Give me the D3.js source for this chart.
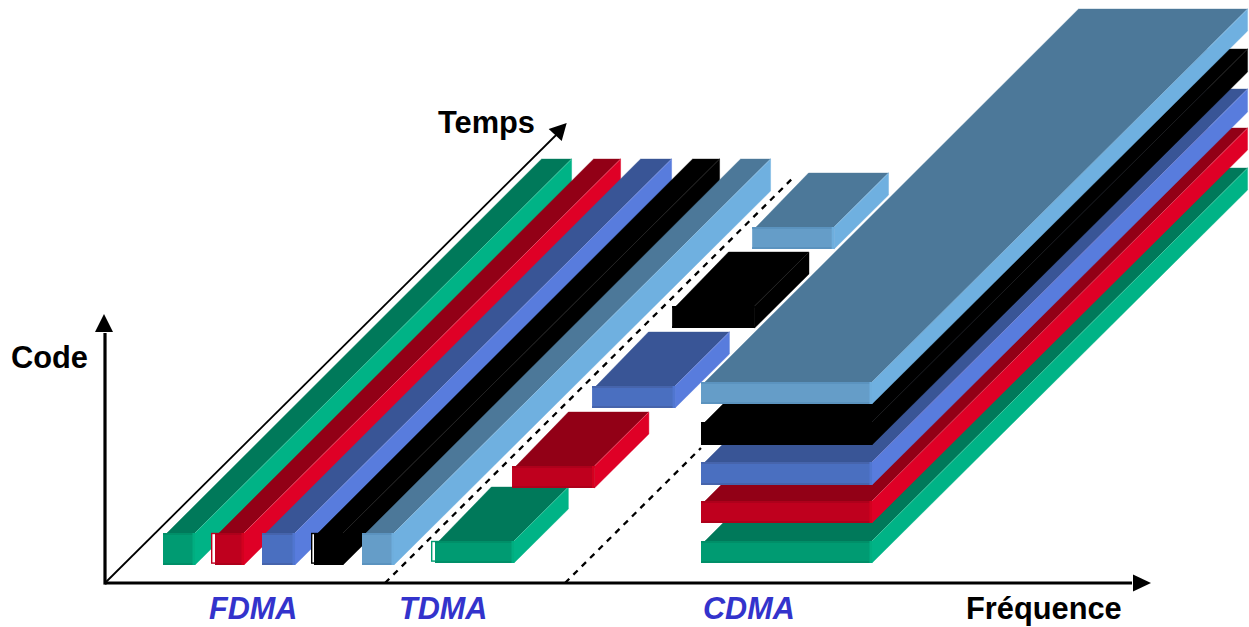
<!DOCTYPE html>
<html lang="fr">
<head>
<meta charset="utf-8">
<title>FDMA TDMA CDMA</title>
<script src="https://cdn.jsdelivr.net/npm/d3@7/dist/d3.min.js"></script>
<style>
html,body{margin:0;padding:0;background:#fff;overflow:hidden}
svg{display:block}
text{font-family:"Liberation Sans",Arial,sans-serif;font-weight:bold}
</style>
</head>
<body>
<svg id="chart" width="1249" height="627"></svg>
<script>
// ---- data (chart units: frequency, time, code) ----
const channels = ["green", "red", "blue", "black", "sky"];

const fdmaFreqStart = [58, 110, 157, 209, 257];
const fdmaFreqEnd   = [90, 139, 190, 238, 289];
const fdmaTimeStart = [0, 0, 0, 0, 0];
const fdmaTimeEnd   = [374, 374, 374, 374, 374];
const fdmaCodeStart = [18, 18, 18, 18, 18];
const fdmaCodeEnd   = [50, 50, 50, 50, 50];
const fdmaFrameFreq = [null, 106, null, 206, null];

const tdmaFreqStart = [330, 331.5, 331, 330.5, 331];
const tdmaFreqEnd   = [409, 414, 414, 413, 413];
const tdmaTimeStart = [0, 75, 155, 235, 314];
const tdmaTimeEnd   = [54, 129, 209, 289, 368];
const tdmaCodeStart = [20, 20, 20, 20, 20];
const tdmaCodeEnd   = [42, 42, 42, 42, 42];
const tdmaFrameFreq = [326, null, null, null, null];

const cdmaFreqStart = [596, 596, 596, 596, 596];
const cdmaFreqEnd   = [767, 767, 767, 767, 767];
const cdmaTimeStart = [0, 0, 0, 0, 0];
const cdmaTimeEnd   = [373, 373, 373, 373, 373];
const cdmaCodeStart = [20, 60, 98, 138, 179];
const cdmaCodeEnd   = [42, 82, 121, 161, 201];

const guardFreq    = [280, 460];
const guardTimeEnd = [406, 135];

const axisFreqMax = 1047;
const axisCodeMax = 270;
const axisTimeMax = 460;

const methodLabels = ["FDMA", "TDMA", "CDMA"];
const axisLabels = ["Code", "Temps", "Fréquence"];

// ---- styles ----
const palette = {
  green: {front:"#009B72", top:"#00795A", side:"#00B386", dark:"#008F68", light:"#00AE80", edge:"#5fd0b0"},
  red:   {front:"#BF001E", top:"#920016", side:"#DF0026", dark:"#AE001B", light:"#D3001F", edge:"#f06a80"},
  blue:  {front:"#4A6FC0", top:"#395596", side:"#587CDD", dark:"#4664AC", light:"#5076D0", edge:"#8a9be0"},
  black: {front:"#000000", top:"#000000", side:"#000000", dark:"#000000", light:"#000000", edge:"#2c2c2c"},
  sky:   {front:"#659DC8", top:"#4C7899", side:"#6FB0E0", dark:"#5B93BF", light:"#6EAEDD", edge:"#9cc6e6"}
};

// ---- scales: oblique projection from the axis origin ----
const originX = 105, originY = 583;
const fScale  = d3.scaleLinear().domain([0, 1000]).range([0, 1000]);
const cScale  = d3.scaleLinear().domain([0, 1000]).range([0, -1000]);
const tScaleX = d3.scaleLinear().domain([0, 374]).range([0, 376.6]);
const tScaleY = d3.scaleLinear().domain([0, 374]).range([0, -374]);
const px = (f, t) => originX + fScale(f) + tScaleX(t);
const py = (c, t) => originY + cScale(c) + tScaleY(t);

const svg = d3.select("#chart");
const toPath = d3.line();

function makeBoxes(fs, fe, ts, te, cs, ce, frames) {
  return channels.map((name, i) => ({
    name, f0: fs[i], f1: fe[i], t0: ts[i], t1: te[i], c0: cs[i], c1: ce[i],
    frame: frames ? frames[i] : null
  }));
}
const boxes = [
  ...makeBoxes(fdmaFreqStart, fdmaFreqEnd, fdmaTimeStart, fdmaTimeEnd, fdmaCodeStart, fdmaCodeEnd, fdmaFrameFreq),
  ...makeBoxes(tdmaFreqStart, tdmaFreqEnd, tdmaTimeStart, tdmaTimeEnd, tdmaCodeStart, tdmaCodeEnd, tdmaFrameFreq),
  ...makeBoxes(cdmaFreqStart, cdmaFreqEnd, cdmaTimeStart, cdmaTimeEnd, cdmaCodeStart, cdmaCodeEnd, null)
];

// guard lines sit under the boxes
svg.append("g").selectAll("path").data(guardFreq).join("path")
  .attr("d", (f, i) => toPath([[px(f, 0), py(0, 0)], [px(f, guardTimeEnd[i]), py(0, guardTimeEnd[i])]]))
  .attr("fill", "none").attr("stroke", "#000").attr("stroke-width", 2.3)
  .attr("stroke-dasharray", "6 5.8");

// boxes
const frontInset = 4, backInset = 2, bevel = 2;
const g = svg.append("g").selectAll("g").data(boxes).join("g");
g.each(function (b) {
  const p = palette[b.name], s = d3.select(this);
  const xL = px(b.f0, b.t0), xR = px(b.f1, b.t0);
  const yT = py(b.c1, b.t0), yB = py(b.c0, b.t0);
  const dx = tScaleX(b.t1 - b.t0), dy = -tScaleY(b.t1 - b.t0);
  const h = yB - yT;
  // top
  s.append("path")
    .attr("d", toPath([[xL + frontInset, yT], [xL + backInset + dx, yT - dy], [xR + dx, yT - dy], [xR, yT]]) + "Z")
    .attr("fill", p.top).attr("stroke", p.top).attr("stroke-width", 0.4);
  // side
  s.append("path")
    .attr("d", toPath([[xR, yT], [xR + dx, yT - dy], [xR + dx, yB - dy], [xR, yB]]) + "Z")
    .attr("fill", p.side).attr("stroke", p.side).attr("stroke-width", 0.4);
  // ridge between top and side
  s.append("path")
    .attr("d", toPath([[xR, yT], [xR + dx, yT - dy]]))
    .attr("stroke", p.edge).attr("stroke-width", 0.6).attr("fill", "none");
  // left outline frame behind the front
  if (b.frame !== null) {
    const fx = px(b.frame, b.t0);
    s.append("rect").attr("x", fx + 0.7).attr("y", yT + 0.5)
      .attr("width", xL - fx + 4).attr("height", h - 2.4)
      .attr("fill", "#fff").attr("stroke", p.dark === "#000000" ? "#000" : p.front).attr("stroke-width", 1.4);
  }
  // front with bevelled strips
  s.append("rect").attr("x", xL).attr("y", yT).attr("width", xR - xL).attr("height", h).attr("fill", p.front);
  s.append("rect").attr("x", xL).attr("y", yT).attr("width", xR - xL).attr("height", bevel).attr("fill", p.dark);
  s.append("rect").attr("x", xL).attr("y", yB - bevel).attr("width", xR - xL).attr("height", bevel).attr("fill", p.dark);
  s.append("rect").attr("x", xR - bevel - 0.5).attr("y", yT).attr("width", bevel + 0.5).attr("height", h).attr("fill", p.light);
});

// axes
const axes = svg.append("g");
axes.append("path")
  .attr("d", toPath([[px(0, 0), py(0, 0)], [px(0, axisTimeMax - 12), py(0, axisTimeMax - 12)]]))
  .attr("stroke", "#000").attr("stroke-width", 1.8).attr("fill", "none");
axes.append("path")
  .attr("d", toPath([[px(0, 0), py(0, 0)], [px(axisFreqMax - 20, 0), py(0, 0)]]))
  .attr("stroke", "#000").attr("stroke-width", 3.2).attr("fill", "none");
axes.append("path")
  .attr("d", toPath([[px(0, 0), py(0, 0) + 1.6], [px(0, 0), py(axisCodeMax - 20, 0)]]))
  .attr("stroke", "#000").attr("stroke-width", 3.2).attr("fill", "none");

const fTipX = px(axisFreqMax, 0) - 1, fTipY = py(0, 0);
axes.append("path").attr("d", toPath([[fTipX, fTipY], [fTipX - 18, fTipY - 8.5], [fTipX - 18, fTipY + 8.5]]) + "Z").attr("fill", "#000");
const cTipX = px(0, 0) - 1, cTipY = py(axisCodeMax, 0) + 1;
axes.append("path").attr("d", toPath([[cTipX, cTipY], [cTipX - 9, cTipY + 18], [cTipX + 9, cTipY + 18]]) + "Z").attr("fill", "#000");
const tTipX = px(0, axisTimeMax) - 1.5, tTipY = py(0, axisTimeMax);
axes.append("path").attr("d", toPath([[tTipX, tTipY], [tTipX - 18, tTipY + 6], [tTipX - 5, tTipY + 18]]) + "Z").attr("fill", "#000");

// labels
const axisLabelPos = [[11, 368], [438, 133], [966, 619]];
svg.append("g").selectAll("text").data(axisLabels).join("text")
  .attr("x", (d, i) => axisLabelPos[i][0]).attr("y", (d, i) => axisLabelPos[i][1])
  .attr("font-size", 30.8).attr("fill", "#000").text(d => d);

const methodLabelX = [209, 399, 703];
svg.append("g").selectAll("text").data(methodLabels).join("text")
  .attr("x", (d, i) => methodLabelX[i]).attr("y", 619)
  .attr("font-size", 30.6).attr("font-style", "italic").attr("fill", "#3333CC").text(d => d);
</script>
</body>
</html>
